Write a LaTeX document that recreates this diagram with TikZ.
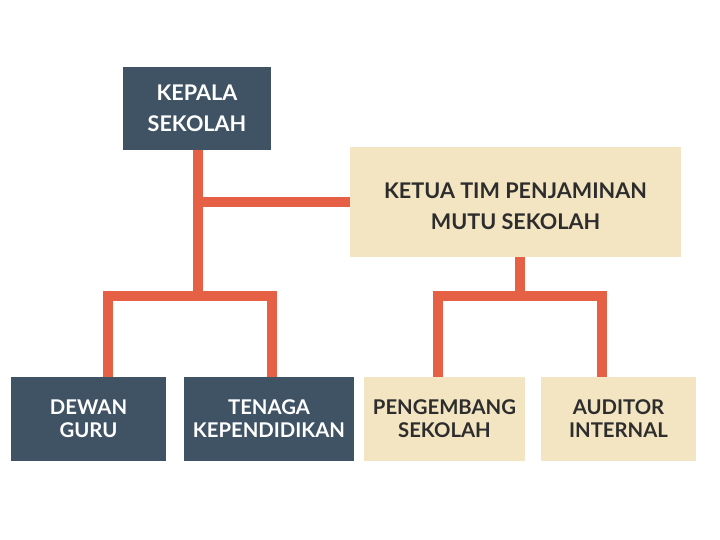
\documentclass[tikz,border=0pt]{standalone}
\usepackage{fontspec}
\setmainfont{Lato}
\usepackage{tikz}
\usetikzlibrary{positioning}
\definecolor{skdark}{RGB}{64,83,101}
\definecolor{skcream}{RGB}{243,229,194}
\definecolor{skorange}{RGB}{230,96,70}
\definecolor{sktext}{RGB}{45,45,45}

\begin{document}
\begin{tikzpicture}[x=1bp,y=-1bp,
  darkbox/.style={fill=skdark, text=white, align=center, inner sep=0pt},
  creambox/.style={fill=skcream, text=sktext, align=center, inner sep=0pt},
  toptext/.style={font=\fontsize{21.6bp}{31bp}\selectfont\bfseries},
  lowtext/.style={font=\fontsize{20.3bp}{23bp}\selectfont\bfseries},
  link/.style={draw=skorange, line width=10bp}]
\useasboundingbox[fill=white] (0,0) rectangle (720,540);
% Top level
\node[darkbox, toptext, minimum width=148bp, minimum height=83bp] (kepala) at (197,108.5) {KEPALA\\SEKOLAH};
\node[creambox, toptext, minimum width=331bp, minimum height=110bp] (ketua) at (515.5,202) {};
\node[toptext, text=sktext, align=center] (ketuatext) at (515.5,206.5) {KETUA TIM PENJAMINAN\\MUTU SEKOLAH};
% Bottom level
\node[darkbox, lowtext, minimum width=155bp, minimum height=84bp] (dewan) at (88.5,419) {DEWAN\\GURU};
\node[darkbox, lowtext, minimum width=170bp, minimum height=84bp] (tenaga) at (269,419) {TENAGA\\KEPENDIDIKAN};
\node[creambox, lowtext, minimum width=161bp, minimum height=84bp] (pengembang) at (444.5,419) {PENGEMBANG\\SEKOLAH};
\node[creambox, lowtext, minimum width=155bp, minimum height=84bp] (auditor) at (618.5,419) {AUDITOR\\INTERNAL};
% Junctions
\coordinate (jk) at (198,296);
\coordinate (jt) at (520,296);
\coordinate (dg) at (108,0);
\coordinate (tk) at (271.5,0);
\coordinate (ps) at (438,0);
\coordinate (ai) at (602,0);
% Connectors
\draw[link] (kepala.south -| jk) -- (jk);
\draw[link] (jk |- ketua.west) -- (ketua.west);
\draw[link] (dewan.north -| dg) |- (jk) -| (tenaga.north -| tk);
\draw[link] (ketua.south -| jt) -- (jt);
\draw[link] (pengembang.north -| ps) |- (jt) -| (auditor.north -| ai);
\end{tikzpicture}
\end{document}
